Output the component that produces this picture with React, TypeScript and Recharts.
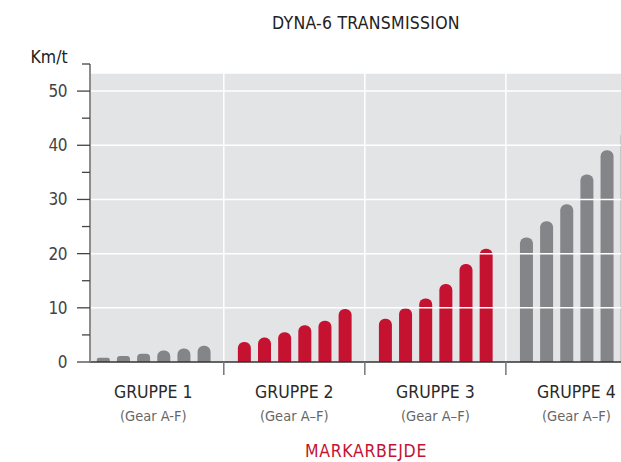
import { BarChart, Bar, XAxis, YAxis, Cell, ReferenceArea, ReferenceLine } from "recharts";

// Chart data
const groups = ["GRUPPE 1", "GRUPPE 2", "GRUPPE 3", "GRUPPE 4"];
const gearLabels = ["(Gear A-F)", "(Gear A–F)", "(Gear A–F)", "(Gear A–F)"];
const gruppe1 = [0.8, 1.1, 1.5, 2.1, 2.5, 3.0];
const gruppe2 = [3.7, 4.5, 5.5, 6.8, 7.6, 9.8];
const gruppe3 = [8.0, 9.9, 11.7, 14.4, 18.1, 20.9];
const gruppe4 = [23.0, 26.0, 29.1, 34.6, 39.1, 42.8];
const groupValues = [gruppe1, gruppe2, gruppe3, gruppe4];
const yTicks = [0, 5, 10, 15, 20, 25, 30, 35, 40, 45, 50, 55];
const gridValues = [10, 20, 30, 40, 50];

const GRAY = "#848589";
const RED = "#c41230";
const groupColors = [GRAY, RED, RED, GRAY];
const FONT = '"DejaVu Sans Condensed", "Liberation Sans Narrow", sans-serif';

// 7 slots per group: 6 gears + one empty slot where the separator sits
const SLOTS = 7;
const chartData = groupValues.flatMap((vals, g) =>
  vals.map((v, j) => ({ pos: g * SLOTS + j, value: v, group: g }))
);
const groupCenters = groups.map((_, g) => g * SLOTS + 2.5);
const separators = [1, 2, 3].map((g) => g * SLOTS - 1);

function YTick(props: any) {
  const { x, y, payload } = props;
  const major = payload.value % 10 === 0;
  return (
    <g>
      <line x1={x - (major ? 13 : 8)} x2={x} y1={y} y2={y} stroke="#444" strokeWidth={1.3} />
      {major && (
        <text x={x - 23} y={y} dy={6} textAnchor="end" fontSize={17} fill="#444" fontFamily={FONT} letterSpacing={-0.5}>
          {payload.value}
        </text>
      )}
    </g>
  );
}

function XTick(props: any) {
  const { x, y, payload } = props;
  const gi = groupCenters.indexOf(payload.value);
  if (gi < 0) {
    return <line x1={x} x2={x} y1={y} y2={y + 13} stroke="#777" strokeWidth={1.5} />;
  }
  return (
    <g fontFamily={FONT}>
      <text x={x} y={y + 36} textAnchor="middle" fontSize={17.5} fill="#2a2a2a">
        {groups[gi]}
      </text>
      <text x={x} y={y + 59} textAnchor="middle" fontSize={14.5} fill="#666">
        {gearLabels[gi]}
      </text>
    </g>
  );
}

export default function App() {
  return (
    <div style={{ position: "fixed", left: 0, top: 0, width: 621, height: 462, overflow: "hidden", background: "#fff" }}>
      <div style={{ position: "absolute", left: 0, top: 0 }}>
        <BarChart width={657} height={462} data={chartData} margin={{ top: 64, right: 0, bottom: 0, left: 0 }}>
          <ReferenceArea y1={0} y2={53.2} fill="#e3e4e6" fillOpacity={1} stroke="none" />
          {gridValues.map((v) => (
            <ReferenceLine key={`h${v}`} y={v} stroke="#fff" strokeWidth={1.5} />
          ))}
          {separators.map((s) => (
            <ReferenceLine key={`v${s}`} x={s} stroke="#fff" strokeWidth={1.5} />
          ))}
          <XAxis
            type="number"
            dataKey="pos"
            domain={[-0.64, 27.5]}
            allowDataOverflow
            ticks={[...groupCenters, ...separators].sort((a, b) => a - b)}
            interval={0}
            tick={<XTick />}
            tickLine={false}
            tickSize={0}
            tickMargin={0}
            axisLine={{ stroke: "#333", strokeWidth: 1.5 }}
            height={100}
          />
          <YAxis
            type="number"
            domain={[0, 55]}
            ticks={yTicks}
            interval={0}
            tick={<YTick />}
            tickLine={false}
            tickSize={0}
            tickMargin={0}
            axisLine={{ stroke: "#8c8c8c", strokeWidth: 2 }}
            width={90}
          />
          <Bar dataKey="value" barSize={13} radius={[6, 6, 0, 0]} isAnimationActive={false}>
            {chartData.map((d, i) => (
              <Cell key={`c${i}`} fill={groupColors[d.group]} />
            ))}
          </Bar>
        </BarChart>
      </div>
      <svg width={621} height={462} style={{ position: "absolute", left: 0, top: 0, pointerEvents: "none" }}>
        <g fontFamily={FONT} fontSize={17.5}>
          <text x={366} y={29} textAnchor="middle" fill="#222" letterSpacing={0.25}>
            DYNA-6 TRANSMISSION
          </text>
          <text x={30.5} y={62.7} fill="#222">
            Km/t
          </text>
          <text x={366} y={457} textAnchor="middle" fill={RED} letterSpacing={0.7}>
            MARKARBEJDE
          </text>
        </g>
      </svg>
    </div>
  );
}
